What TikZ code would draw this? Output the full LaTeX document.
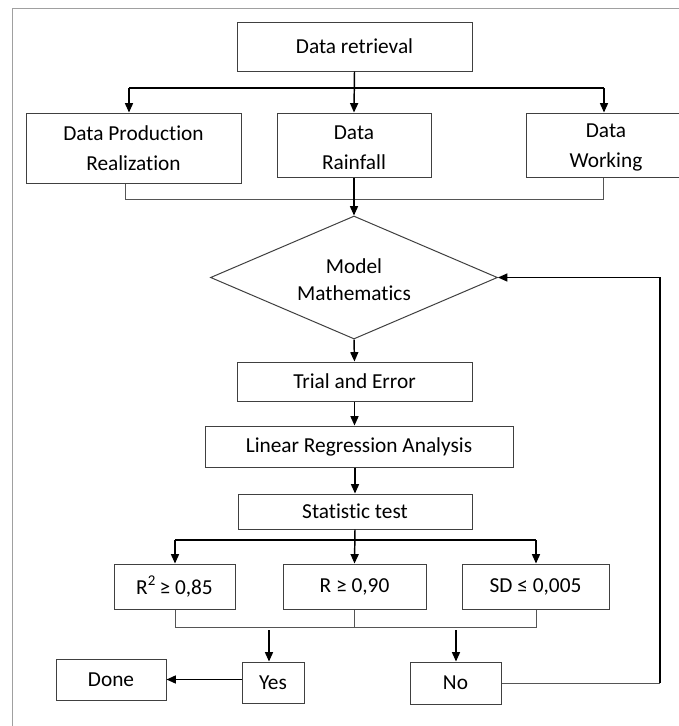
\documentclass[tikz,border=0pt]{standalone}
\usepackage{fontspec}
\setmainfont[Ligatures={NoCommon}]{Carlito}
\usetikzlibrary{shapes.geometric,arrows.meta}
\definecolor{boxline}{HTML}{404040}
\definecolor{frameline}{HTML}{A0A0A0}
\definecolor{joinline}{HTML}{555555}
\begin{document}
\begin{tikzpicture}[x=0.75pt,y=-0.75pt,
  box/.style 2 args={draw=boxline,line width=0.75pt,rectangle,inner sep=0pt,align=center,
    font=\fontsize{16}{22.5}\selectfont,minimum width=#1*0.75pt,minimum height=#2*0.75pt},
  decision/.style={diamond,draw=boxline,line width=0.75pt,inner sep=0pt,aspect=2.33,
    minimum width=287*0.75pt,minimum height=123*0.75pt,align=center,
    font=\fontsize{16}{20}\selectfont},
  arr/.style={-{Triangle[length=7pt,width=6pt]},line width=1.1pt,black},
  branch/.style={draw=black,line width=0.8pt},
  joinln/.style={draw=joinline,line width=0.75pt},
]
\useasboundingbox (0,0) rectangle (679,726);
\clip (0,0) rectangle (679,726);
\fill[white] (0,0) rectangle (679,726);
\draw[frameline,line width=0.75pt] (12,726) -- (12,8) -- (679,8);

% nodes
\node[box={235}{49}] (ret) at (354.5,46.5) {Data retrieval};
\node[box={215}{70}] (dpr) at (133.5,148) {Data Production\\Realization};
\node[box={154}{64}] (dr) at (354,145) {\rule{0pt}{14pt}Data\\Rainfall};
\node[box={160}{64}] (dw) at (606,145) {\rule{0pt}{14pt}Data\\Working};
\node[decision] (dia) at (354,277.5) {\rule{0pt}{14pt}Model\\Mathematics};
\node[box={235}{39}] (trial) at (354.5,381.5) {Trial and Error};
\node[box={308}{41}] (lra) at (359,446.5) {Linear Regression Analysis};
\node[box={234}{35}] (stat) at (355,511.5) {Statistic test};
\node[box={121}{45}] (r2) at (174.5,586.5) {R\textsuperscript{2}\,≥ 0,85};
\node[box={143}{45}] (r) at (354.5,586.5) {R ≥ 0,90};
\node[box={147}{45}] (sd) at (535.5,586.5) {SD ≤ 0,005};
\node[box={110}{41}] (done) at (111,679.5) {Done};
\node[box={62}{41}] (yes) at (273,682.5) {Yes};
\node[box={91}{42}] (no) at (455.5,683) {No};

% top branch
\coordinate (b1L) at (129,88);
\coordinate (b1R) at (604,88);
\draw[branch] (b1L) -- (b1R);
\draw[arr] (ret.south) -- (dr.north);
\draw[arr] (b1L) -- (b1L |- dpr.north);
\draw[arr] (b1R) -- (b1R |- dw.north);

% merge into decision
\coordinate (m1L) at (125,199);
\coordinate (m1R) at (603,199);
\draw[joinln] (dpr.south -| m1L) -- (m1L) -- (m1R) -- (dw.south -| m1R);
\draw[arr] (dr.south) -- (dia.north);

% main column
\draw[arr] (dia.south) -- (trial.north);
\draw[arr] (trial.south) -- (trial.south |- lra.north);
\draw[arr] (stat.north |- lra.south) -- (stat.north);

% statistic branch
\coordinate (b2L) at (175,540);
\coordinate (b2R) at (536,540);
\draw[branch] (b2L) -- (b2R);
\draw[arr] (stat.south) -- (r.north);
\draw[arr] (b2L) -- (b2L |- r2.north);
\draw[arr] (b2R) -- (b2R |- sd.north);

% merge of tests
\coordinate (m2L) at (175,627);
\coordinate (m2R) at (536,627);
\draw[joinln] (r2.south -| m2L) -- (m2L) -- (m2R) -- (sd.south -| m2R);
\draw[joinln] (r.south) -- (r.south |- m2L);
\coordinate (yTop) at (269,630);
\coordinate (nTop) at (456,630);
\draw[arr] (yTop) -- (yTop |- yes.north);
\draw[arr] (nTop) -- (nTop |- no.north);
\draw[arr] (yes.west |- done.east) -- (done.east);

% feedback loop
\coordinate (fbT) at (660,277.5);
\draw[joinln] (no.east) -- (no.east -| fbT);
\draw[arr,line width=0.9pt] (no.east -| fbT) -- (fbT) -- (dia.east);
\end{tikzpicture}
\end{document}
